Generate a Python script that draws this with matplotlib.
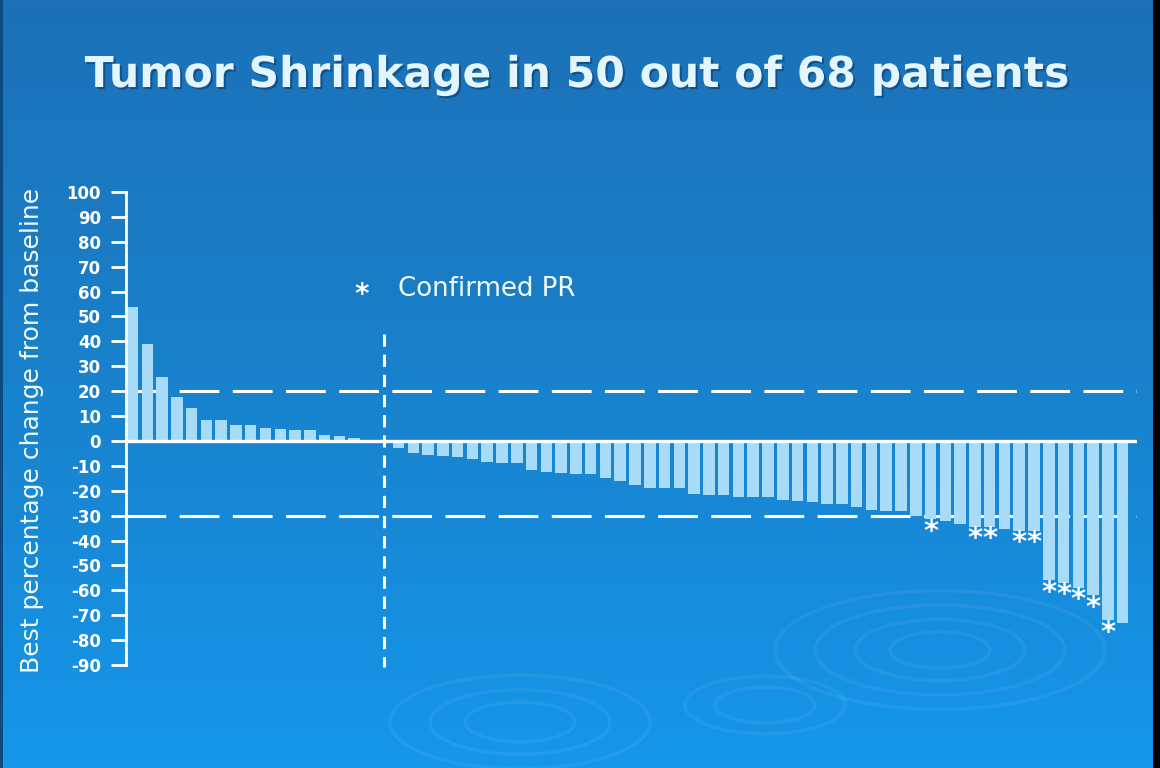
import matplotlib
matplotlib.use("Agg")
import matplotlib.pyplot as plt
import numpy as np
from matplotlib import patheffects as pe
from matplotlib.patches import Ellipse, Rectangle
from matplotlib.colors import LinearSegmentedColormap

# ---------------- data ----------------
title = "Tumor Shrinkage in 50 out of 68 patients"
ylabel = "Best percentage change from baseline"
legend_label = "Confirmed PR"

change = [54, 39, 25.5, 17.7, 13.4, 8.3, 8.3, 6.4, 6.4, 5.4, 4.7, 4.4, 4.4, 2.3, 1.9, 1.0,
          0, 0,
          -3.0, -4.7, -5.7, -6.0, -6.4, -7.3, -8.3, -8.7, -8.7, -11.6, -12.4, -12.7, -13.4,
          -13.4, -14.7, -16.1, -17.7, -19.0, -19.0, -19.0, -21.4, -21.8, -21.8, -22.5, -22.5,
          -22.5, -23.7, -24.1, -24.7, -25.2, -25.4, -26.5, -27.8, -28.1, -28.2, -30.0, -31.5,
          -32.0, -33.5, -34.5, -34.5, -35.5, -36.0, -36.0, -56.0, -57.0, -59.0, -62.0, -72.0,
          -73.0]
confirmed_pr = [54, 57, 58, 60, 61, 62, 63, 64, 65, 66]   # patient indices
thresholds = [20, -30]
divider_patient = 17
ytick_values = list(range(100, -100, -10))
ytick_labels = [str(v) for v in ytick_values]

# ---------------- figure ----------------
fig = plt.figure(figsize=(11.6, 7.68), dpi=100)

# background gradient
bg = fig.add_axes([0, 0, 1, 1], zorder=-10)
cmap = LinearSegmentedColormap.from_list(
    "bg", ["#1c71b8", "#1a7cc4", "#1888d6", "#1597ea"])
grad = np.linspace(0, 1, 256).reshape(-1, 1)
bg.imshow(grad, aspect="auto", cmap=cmap, extent=[0, 1, 0, 1], origin="upper")
bg.set_xlim(0, 1)
bg.set_ylim(0, 1)
bg.axis("off")
# ripples
W, H = 1160.0, 768.0
for cx, cy, sizes in [(940, 650, [330, 250, 170, 100]),
                      (520, 722, [260, 180, 110]),
                      (765, 705, [160, 100])]:
    for s in sizes:
        bg.add_patch(Ellipse((cx / W, 1 - cy / H), s / W, s * 0.36 / H,
                             fill=False, ec="white", lw=2.5, alpha=0.06))
# edge strips
bg.add_patch(Rectangle((0, 0), 3 / W, 1, color="#0c4a80", lw=0))
bg.add_patch(Rectangle((1 - 7 / W, 0), 7 / W, 1, color="black", lw=0))

# main axes
ax = fig.add_axes([126 / W, 1 - 665 / H, (1137 - 126) / W, (665 - 192) / H])
ax.patch.set_alpha(0)
x = np.arange(len(change))
ax.bar(x, change, width=0.78, color="#a8dbf8", zorder=2)
ax.set_xlim(-0.44, 67.97)
ax.set_ylim(-90, 100)

for t in thresholds:
    ax.axhline(t, color="white", lw=2.2, dashes=(13, 4.4), zorder=1)
ax.axhline(0, color="white", lw=2.4, zorder=4)
ax.plot([divider_patient, divider_patient], [43, -91], color="white", lw=2.2,
        dashes=(4, 2.6), zorder=5, clip_on=False)

for i in confirmed_pr:
    ax.text(i, change[i] - 5.0, "*", ha="center", va="center", fontsize=21,
            fontweight="bold", color="white", zorder=6)

for s in ["top", "right", "bottom"]:
    ax.spines[s].set_visible(False)
ax.spines["left"].set_color("white")
ax.spines["left"].set_linewidth(2)
ax.set_xticks([])
ax.set_yticks(ytick_values)
ax.set_yticklabels(ytick_labels)
ax.tick_params(axis="y", direction="out", length=11, width=2, color="white",
               labelcolor="white", pad=7, labelsize=12)
for lab in ax.get_yticklabels():
    lab.set_fontweight("bold")

# texts
fig.text(577.5 / W, 1 - 87 / H, title, ha="center", va="baseline", fontsize=30.6,
         fontweight="bold", color="#e3f5ff",
         path_effects=[pe.withSimplePatchShadow(offset=(1.5, -1.5),
                                                shadow_rgbFace="#0a3d6b", alpha=0.6)])
fig.text(32 / W, 1 - 430 / H, ylabel, rotation=90, ha="center", va="center",
         fontsize=18.0, color="#f2faff")
fig.text(362 / W, 1 - 295 / H, "*", ha="center", va="center", fontsize=20,
         fontweight="bold", color="white")
fig.text(398 / W, 1 - 296 / H, legend_label, ha="left", va="baseline",
         fontsize=18.7, color="#f2faff")

fig.savefig("out.png", dpi=100)
